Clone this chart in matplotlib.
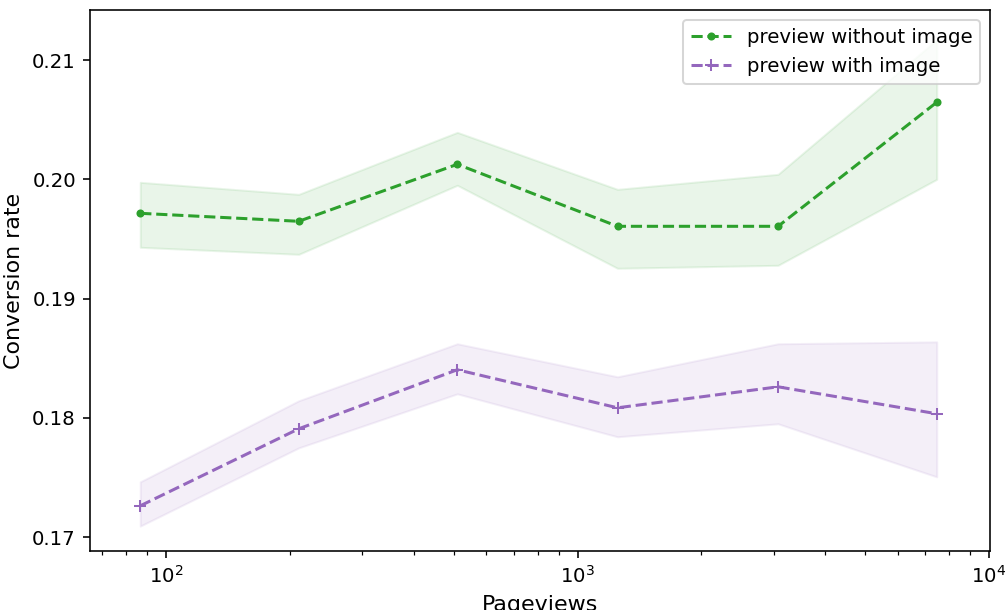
import matplotlib
matplotlib.use('Agg')
import matplotlib.pyplot as plt
import numpy as np

# pageviews bins (log scale)
pageviews = [86.5, 210, 510, 1250, 3070, 7460]

# preview without image
rate_no_img = [0.19715, 0.19648, 0.20126, 0.19606, 0.19606, 0.20646]
low_no_img = [0.19430, 0.19371, 0.19950, 0.19254, 0.19279, 0.20000]
high_no_img = [0.19975, 0.19874, 0.20394, 0.19916, 0.20042, 0.21170]

# preview with image
rate_img = [0.17262, 0.17908, 0.18403, 0.18084, 0.18260, 0.18034]
low_img = [0.17092, 0.17748, 0.18201, 0.17841, 0.17950, 0.17505]
high_img = [0.17463, 0.18143, 0.18621, 0.18344, 0.18621, 0.18637]

plt.rcParams['font.size'] = 9.8

DPI = 145
fig = plt.figure(figsize=(1006 / DPI, 610 / DPI), dpi=DPI)
ax = fig.add_axes([90 / 1006, 1 - 551 / 610, (990 - 90) / 1006, (551 - 10) / 610])

ax.plot(pageviews, rate_no_img, '--', marker='.', color='tab:green', label='preview without image')
ax.fill_between(pageviews, low_no_img, high_no_img, color='tab:green', alpha=0.1)
ax.plot(pageviews, rate_img, '--', marker='+', color='tab:purple', label='preview with image')
ax.fill_between(pageviews, low_img, high_img, color='tab:purple', alpha=0.1)

ax.set_xscale('log')
ax.set_xlim(65.3, 10050)
ax.set_ylim(0.16883, 0.2142)
ax.set_xlabel('Pageviews', fontsize=11)
ax.set_ylabel('Conversion rate', fontsize=11)
ax.legend(loc='upper right')

fig.savefig('out.png', dpi=DPI)
